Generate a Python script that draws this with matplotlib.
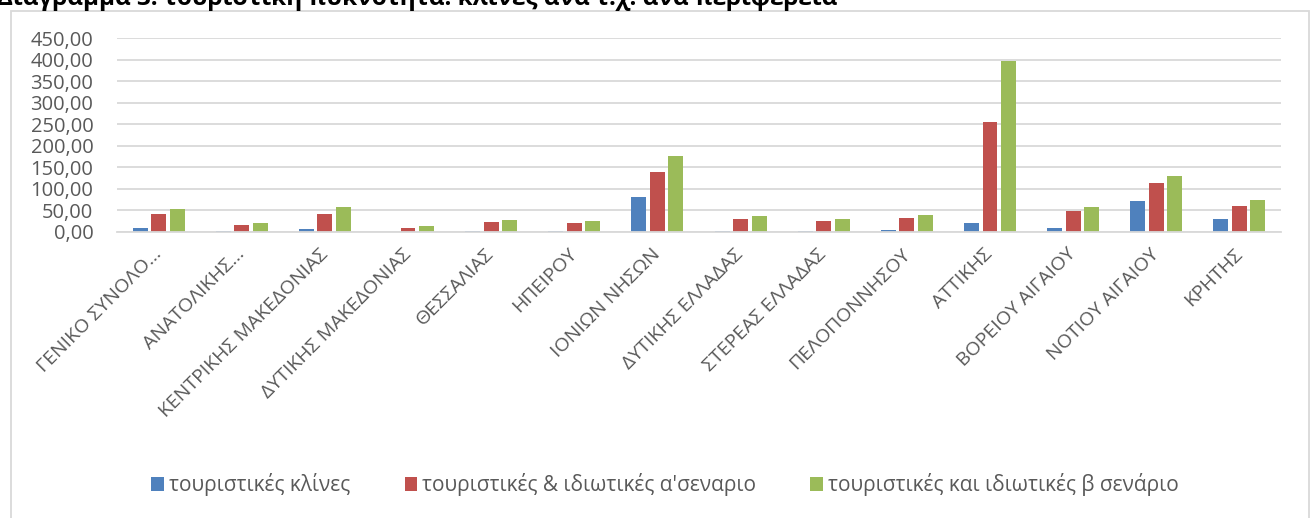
import matplotlib
matplotlib.use('Agg')
import matplotlib.pyplot as plt
from matplotlib.patches import Rectangle
from matplotlib.ticker import FuncFormatter
import numpy as np

plt.rcParams['font.family'] = ['Open Sans', 'DejaVu Sans']

# περιφέρειες
regions = ['ΓΕΝΙΚΟ ΣΥΝΟΛΟ...', 'ΑΝΑΤΟΛΙΚΗΣ...', 'ΚΕΝΤΡΙΚΗΣ ΜΑΚΕΔΟΝΙΑΣ',
           'ΔΥΤΙΚΗΣ ΜΑΚΕΔΟΝΙΑΣ', 'ΘΕΣΣΑΛΙΑΣ', 'ΗΠΕΙΡΟΥ', 'ΙΟΝΙΩΝ ΝΗΣΩΝ',
           'ΔΥΤΙΚΗΣ ΕΛΛΑΔΑΣ', 'ΣΤΕΡΕΑΣ ΕΛΛΑΔΑΣ', 'ΠΕΛΟΠΟΝΝΗΣΟΥ', 'ΑΤΤΙΚΗΣ',
           'ΒΟΡΕΙΟΥ ΑΙΓΑΙΟΥ', 'ΝΟΤΙΟΥ ΑΙΓΑΙΟΥ', 'ΚΡΗΤΗΣ']

beds = [9.4, 3.0, 7.8, 1.0, 3.0, 3.0, 81.0, 2.0, 2.5, 4.5, 21.0, 8.6, 71.0, 30.5]
scen_a = [41.4, 16.4, 40.6, 10.2, 23.4, 21.9, 139.0, 29.0, 25.8, 33.6, 255.0, 49.0, 114.0, 61.0]
scen_b = [53.0, 20.3, 57.8, 14.0, 27.3, 25.0, 176.0, 36.0, 31.0, 39.0, 396.0, 58.6, 129.0, 74.0]

series_names = ['τουριστικές κλίνες', 'τουριστικές & ιδιωτικές α\'σεναριο',
                'τουριστικές και ιδιωτικές β σενάριο']
colors = ['#4F81BD', '#C0504D', '#9BBB59']
grey = '#595959'

fig = plt.figure(figsize=(13.12, 5.18), dpi=100)
ax = fig.add_axes([117 / 1312, 1 - 232 / 518, (1281 - 117) / 1312, (232 - 38) / 518])

x = np.arange(len(regions))
pitch = 0.222
for i, (vals, c, name) in enumerate(zip([beds, scen_a, scen_b], colors, series_names)):
    ax.bar(x + (i - 1) * pitch, vals, width=0.18, color=c, linewidth=0,
           label=name, zorder=3)

ax.set_xlim(-0.5, len(regions) - 0.5)
ax.set_ylim(0, 450)
ax.set_yticks(np.arange(0, 451, 50))
ax.yaxis.set_major_formatter(FuncFormatter(lambda v, p: f'{v:.2f}'.replace('.', ',')))
ax.grid(axis='y', color='#D9D9D9', linewidth=1.3, zorder=0)
ax.set_axisbelow(True)
for s in ['left', 'right', 'top']:
    ax.spines[s].set_visible(False)
ax.spines['bottom'].set_color('#D9D9D9')
ax.spines['bottom'].set_linewidth(1.3)
ax.spines['bottom'].set_zorder(4)
ax.tick_params(axis='both', length=0, colors=grey, labelsize=14.5)
ax.tick_params(axis='y', pad=17)
ax.set_xticks(x)
ax.set_xticklabels(regions, rotation=45, ha='right', va='center',
                   rotation_mode='anchor', fontsize=14)
ax.tick_params(axis='x', pad=14)

fig.legend(loc='center', bbox_to_anchor=(0.507, 0.064), ncol=3, frameon=False,
           fontsize=15, labelcolor=grey, handlelength=0.6, handleheight=0.6,
           handletextpad=0.25, columnspacing=2.6)

# πλαίσιο γραφήματος
fig.patches.append(Rectangle((11 / 1312, -0.05), (1309 - 11) / 1312, 1.05 - 11 / 518,
                             transform=fig.transFigure, fill=False,
                             edgecolor='#D9D9D9', linewidth=1.3))

fig.text(-0.002, 1 - 5 / 518, 'Διάγραμμα 3: τουριστική πυκνότητα: κλίνες ανά τ.χ. ανά περιφέρεια',
         fontsize=17.5, fontweight='bold', color='black', ha='left', va='baseline')

fig.savefig('out.png', dpi=100)
